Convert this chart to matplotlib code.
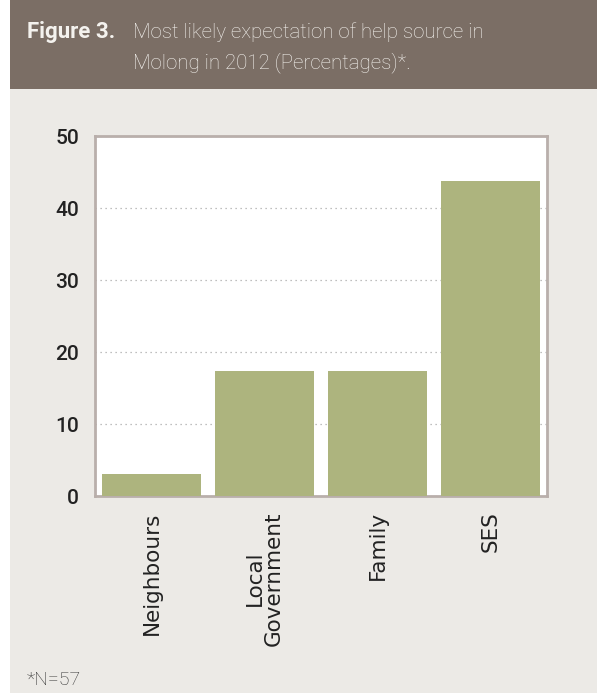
import matplotlib.pyplot as plt
from matplotlib.patches import Rectangle

categories = ['Neighbours', 'Local\nGovernment', 'Family', 'SES']
percentages = [3.1, 17.3, 17.3, 43.7]
y_ticks = [0, 10, 20, 30, 40, 50]

plt.rcParams['font.family'] = ['Roboto', 'DejaVu Sans']

fig = plt.figure(figsize=(5.97, 6.93), dpi=100)
fig.patch.set_facecolor('white')

# light panel + brown header band
fig.patches.append(Rectangle((10 / 597, 0), 1, 1, transform=fig.transFigure,
                             facecolor='#ECEAE6', edgecolor='none', zorder=-2))
fig.patches.append(Rectangle((10 / 597, 1 - 89 / 693), 1, 89 / 693, transform=fig.transFigure,
                             facecolor='#7B6E65', edgecolor='none', zorder=-1))

fig.text(27 / 597, 1 - 38 / 693, 'Figure 3.', color='#F4F2EE', fontsize=16,
         fontweight='bold', va='baseline', ha='left')
fig.text(133 / 597, 1 - 38 / 693, 'Most likely expectation of help source in',
         color='#F4F2EE', fontsize=14.8, fontweight='light', va='baseline', ha='left')
fig.text(133 / 597, 1 - 68 / 693, 'Molong in 2012 (Percentages)*.',
         color='#F4F2EE', fontsize=14.8, fontweight='light', va='baseline', ha='left')

fig.text(27 / 597, 1 - 685 / 693, '*N=57', color='#333333', fontsize=14,
         fontweight='light', va='baseline', ha='left')

ax = fig.add_axes([95 / 597, 197 / 693, 452 / 597, 360 / 693])
ax.set_zorder(2)
ax.set_facecolor('white')
x = range(len(categories))
ax.bar(x, percentages, width=0.87, color='#ADB47E', zorder=3)

ax.set_xlim(-0.5, 3.5)
ax.set_ylim(0, 50)
ax.set_yticks(y_ticks)
ax.set_yticklabels([str(t) for t in y_ticks], fontsize=15, fontweight='medium',
                   color='#222222')
ax.set_xticks(list(x))
ax.set_xticklabels(categories, rotation=90, va='top', ha='center',
                   fontfamily='DejaVu Sans', fontsize=15.5, color='#222222',
                   linespacing=0.95)
ax.tick_params(axis='y', length=0, pad=11.5)
ax.tick_params(axis='x', length=0, pad=11)

ax.yaxis.grid(True, linestyle=(0, (1, 3)), color='#AAAAAA', linewidth=0.9, zorder=1)
for spine in ax.spines.values():
    spine.set_color('#B9AFAB')
    spine.set_linewidth(2)

fig.savefig('out.png', dpi=100)
